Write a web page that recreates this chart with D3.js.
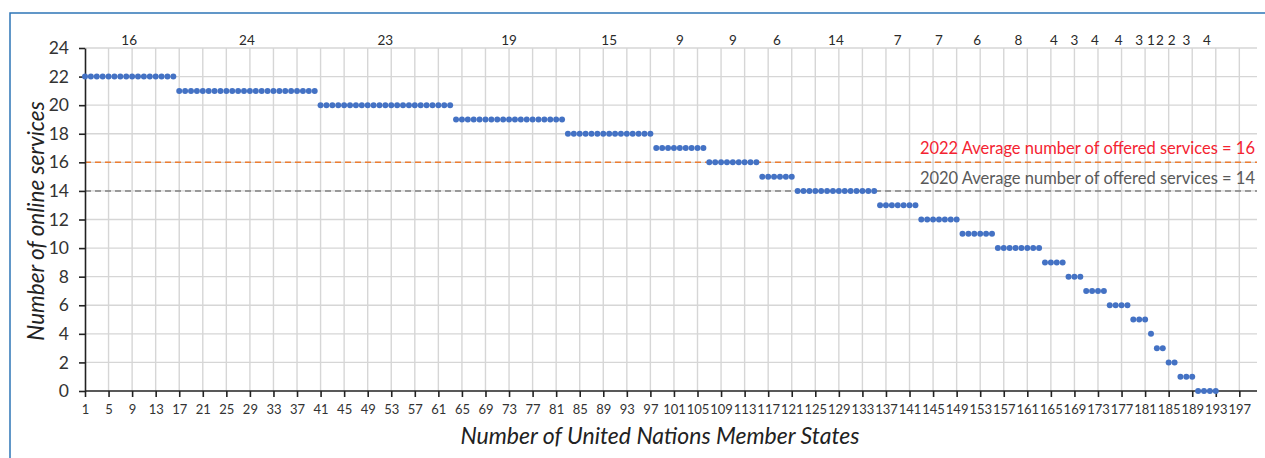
<!DOCTYPE html>
<html lang="en">
<head>
<meta charset="UTF-8">
<title>Online services by Member State</title>
<script src="https://cdn.jsdelivr.net/npm/d3@7"></script>
<style>
  body { margin: 0; background: #fff; }
  svg text { font-family: Lato, "Noto Sans", sans-serif; }
  .grid line { stroke: #d6d6d6; stroke-width: 1.4; }
  .axis path, .axis line { stroke: #222; stroke-width: 1.6; }
  .axis text { fill: #333; }
</style>
</head>
<body>
<svg id="chart" width="1265" height="458"></svg>
<script>
// number of online services offered, and how many Member States offer that many
var serviceLevels = [22, 21, 20, 19, 18, 17, 16, 15, 14, 13, 12, 11, 10, 9, 8, 7, 6, 5, 4, 3, 2, 1, 0];
var stateCounts   = [16, 24, 23, 19, 15, 9, 9, 6, 14, 7, 7, 6, 8, 4, 3, 4, 4, 3, 1, 2, 2, 3, 4];

var xTicks = [1, 5, 9, 13, 17, 21, 25, 29, 33, 37, 41, 45, 49, 53, 57, 61, 65, 69, 73, 77, 81, 85, 89, 93, 97,
              101, 105, 109, 113, 117, 121, 125, 129, 133, 137, 141, 145, 149, 153, 157, 161, 165, 169, 173,
              177, 181, 185, 189, 193, 197];
var yTicks = [0, 2, 4, 6, 8, 10, 12, 14, 16, 18, 20, 22, 24];

var avgLines = [
  {label: "2022 Average number of offered services = 16", value: 16, line: "#ed7d31", text: "#f42331", dy: -8},
  {label: "2020 Average number of offered services = 14", value: 14, line: "#808080", text: "#595959", dy: -7}
];

// expand the groups to one point per Member State
var points = [], groups = [], rank = 1;
serviceLevels.forEach(function(s, i) {
  var start = rank;
  for (var k = 0; k < stateCounts[i]; k++) points.push({rank: rank++, services: s});
  groups.push({count: stateCounts[i], mid: (start + rank - 1) / 2});
});

var svg = d3.select("#chart");
var margin = {left: 85, right: 8, top: 48, bottom: 67};
var width = 1265, height = 458;

var x = d3.scaleLinear().domain([1, 200]).range([margin.left, width - margin.right]);
var y = d3.scaleLinear().domain([0, 24]).range([height - margin.bottom, margin.top]);

// frame
svg.append("rect")
  .attr("x", 10).attr("y", 13)
  .attr("width", 1300).attr("height", 500)
  .attr("fill", "none")
  .attr("stroke", "#2e75b6")
  .attr("stroke-width", 1.5);

// grid
var grid = svg.append("g").attr("class", "grid");
grid.selectAll(".gy").data(yTicks.filter(function(d){ return d > 0; })).enter().append("line")
  .attr("x1", x(1)).attr("x2", x(200))
  .attr("y1", function(d){ return y(d); }).attr("y2", function(d){ return y(d); });
grid.selectAll(".gx").data(xTicks.filter(function(d){ return d > 1; })).enter().append("line")
  .attr("x1", function(d){ return x(d); }).attr("x2", function(d){ return x(d); })
  .attr("y1", y(0)).attr("y2", y(24));

// average lines
svg.selectAll(".avg").data(avgLines).enter().append("line")
  .attr("x1", x(1)).attr("x2", x(200))
  .attr("y1", function(d){ return y(d.value); }).attr("y2", function(d){ return y(d.value); })
  .attr("stroke", function(d){ return d.line; })
  .attr("stroke-width", 1.5)
  .attr("stroke-dasharray", "6,4");

svg.selectAll(".avgText").data(avgLines).enter().append("text")
  .attr("x", x(200) - 2)
  .attr("y", function(d){ return y(d.value) + d.dy; })
  .attr("text-anchor", "end")
  .attr("font-size", 16.5)
  .attr("fill", function(d){ return d.text; })
  .text(function(d){ return d.label; });

// axes
var yAxis = svg.append("g").attr("class", "axis")
  .attr("transform", "translate(" + x(1) + ",0)")
  .call(d3.axisLeft(y).tickValues(yTicks).tickSize(6).tickSizeOuter(0).tickPadding(10));
yAxis.selectAll("text").attr("font-size", 17.5).attr("fill", "#2a2a2a");

var xAxis = svg.append("g").attr("class", "axis")
  .attr("transform", "translate(0," + y(0) + ")")
  .call(d3.axisBottom(x).tickValues(xTicks).tickSize(6).tickSizeOuter(0).tickPadding(8));
xAxis.select(".domain").attr("d", "M" + x(1) + ",0H" + x(200));
xAxis.selectAll("text").attr("font-size", 13);

// group counts along the top
svg.selectAll(".count").data(groups).enter().append("text")
  .attr("x", function(d){ return x(d.mid); })
  .attr("y", 45)
  .attr("text-anchor", "middle")
  .attr("font-size", 13.5)
  .attr("fill", "#2a2a2a")
  .text(function(d){ return d.count; });

// points
svg.append("g").selectAll("circle").data(points).enter().append("circle")
  .attr("cx", function(d){ return x(d.rank); })
  .attr("cy", function(d){ return y(d.services); })
  .attr("r", 3)
  .attr("fill", "#4472c4");

// axis titles
svg.append("text")
  .attr("x", 660).attr("y", 444)
  .attr("text-anchor", "middle")
  .attr("font-size", 23)
  .attr("font-style", "italic")
  .attr("fill", "#222")
  .text("Number of United Nations Member States");

svg.append("text")
  .attr("transform", "translate(44," + 221 + ") rotate(-90)")
  .attr("text-anchor", "middle")
  .attr("font-size", 22.5)
  .attr("font-style", "italic")
  .attr("fill", "#222")
  .text("Number of online services");
</script>
</body>
</html>
